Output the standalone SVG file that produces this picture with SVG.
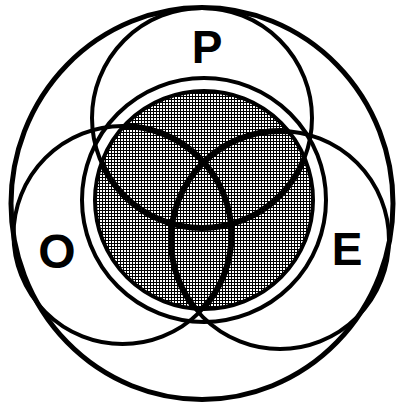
<svg xmlns="http://www.w3.org/2000/svg" width="399" height="405" viewBox="0 0 399 405">
  <defs>
    <pattern id="mesh" width="3" height="3" patternUnits="userSpaceOnUse">
      <rect width="3" height="3" fill="#fff"/>
      <path d="M0 0.5H3M0.5 0V3" stroke="#000" stroke-width="1"/>
    </pattern>
    <clipPath id="inner">
      <circle cx="204" cy="200" r="109"/>
    </clipPath>
    <style>
      .c { fill: none; stroke: #000; stroke-width: 4; }
      .thick { fill: none; stroke: #000; stroke-width: 6; }
      .lbl { font-family: "Liberation Sans", Arial, sans-serif; font-weight: bold; font-size: 46px; fill: #000; text-anchor: middle; }
    </style>
  </defs>
  <rect width="399" height="405" fill="#fff"/>
  <g id="core">
    <circle cx="204" cy="200" r="109" fill="url(#mesh)"/>
    <circle class="c" cx="204" cy="200" r="109"/>
    <circle class="c" cx="204" cy="200" r="122"/>
  </g>
  <g id="outer">
    <ellipse class="c" cx="202" cy="203.5" rx="191" ry="196" style="stroke-width:5"/>
  </g>
  <g id="P">
    <circle class="c" cx="202" cy="118" r="110"/>
    <circle class="thick" cx="202" cy="118" r="110" clip-path="url(#inner)"/>
    <text class="lbl" x="207" y="63">P</text>
  </g>
  <g id="O">
    <circle class="c" cx="122.5" cy="235" r="109"/>
    <circle class="thick" cx="122.5" cy="235" r="109" clip-path="url(#inner)"/>
    <text class="lbl" x="57" y="268" style="font-size:48px">O</text>
  </g>
  <g id="E">
    <circle class="c" cx="280" cy="240" r="109"/>
    <circle class="thick" cx="280" cy="240" r="109" clip-path="url(#inner)"/>
    <text class="lbl" x="347" y="265">E</text>
  </g>
  <g id="connectors"/>
</svg>
